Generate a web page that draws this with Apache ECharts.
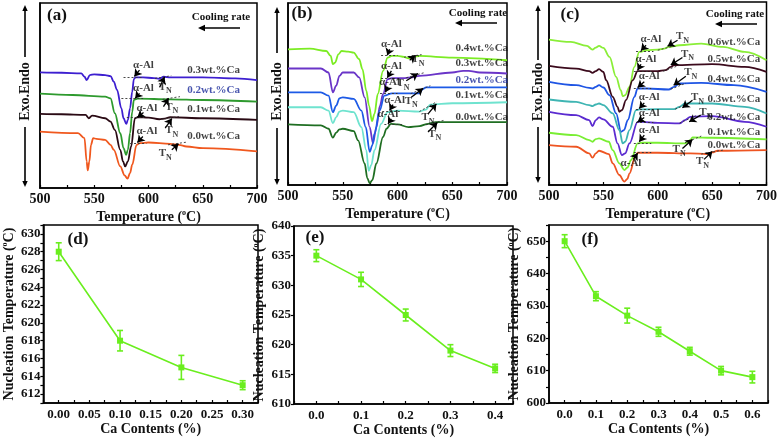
<!DOCTYPE html>
<html><head><meta charset="utf-8">
<script src="https://cdn.jsdelivr.net/npm/echarts@6/dist/echarts.min.js"></script>
<style>html,body{margin:0;padding:0;background:#fff}#c{width:780px;height:438px}</style>
</head><body><div id="c"></div>
<script>
const FONT = '"Liberation Serif","Times New Roman",serif';
// ---------- panel (a) DSC curves: [temperature, heat-flow (arb. units)] ----------
const a_names = ['0.3wt.%Ca','0.2wt.%Ca','0.1wt.%Ca','0.0wt.%Ca'];
const a_ca03 = [[500,348],[520,347],[538,345],[541,335],[543,325],[546,340],[550,342],[560,340],[565,337],[568,320],[571,295],[575,240],[577,210],[579.5,193],[581,205],[583,240],[585,290],[586.5,328],[588,333],[595,333],[605,331],[610,329],[614,335],[620,333],[650,333],[680,330],[700,325]];
const a_ca02 = [[500,284],[530,280],[560,275],[565,270],[569,225],[574,165],[577,120],[579.4,100],[581,115],[583,165],[585,230],[586.5,265],[590,269],[620,267],[650,265],[700,260]];
const a_ca01 = [[500,223],[520,222],[542,220],[545,210],[548,218],[560,210],[565,200],[569,175],[574,115],[576.5,80],[578.5,65],[581,80],[584,125],[587.5,210],[590,213],[600,212],[610,207],[615,209],[620,213],[650,210],[700,205]];
const a_ca00 = [[500,170],[535,165],[541,150],[543,80],[544,53],[545.5,80],[547,130],[549,150],[552,148],[560,145],[565,130],[568,115],[574,65],[578,38],[580.6,28],[583,45],[585,70],[589,130],[592,135],[600,137],[620,133],[628,130],[635,125],[650,120],[700,110]];
// ---------- panel (b) ----------
const b_names = ['0.4wt.%Ca','0.3wt.%Ca','0.2wt.%Ca','0.1wt.%Ca','0.0wt.%Ca'];
const b_ca04 = [[500,410],[520,412],[535,405],[539,390],[541,365],[543,370],[546,395],[549,405],[555,403],[560,400],[565,380],[568,350],[571.5,285],[574,240],[576.7,193],[579,215],[582,275],[586.8,345],[591,385],[595,390],[600,390],[606,387],[610,383],[615,388],[620,390],[650,385],[700,377]];
const b_ca03 = [[500,352],[530,352],[537,340],[541,280],[544,300],[547,330],[550,340],[560,340],[565,325],[570,265],[574.6,175],[577.6,127],[580.7,175],[584,240],[586.8,275],[591,320],[595,323],[605,323],[612,325],[620,330],[650,340],[660,345],[665,345],[675,340],[700,337]];
const b_ca02 = [[500,280],[530,280],[537,270],[541,220],[544,240],[547,262],[550,265],[560,260],[567,225],[571,175],[574.6,100],[577,120],[579,155],[583.7,225],[588,270],[595,277],[610,277],[620,277],[623,290],[626,295],[650,295],[700,295]];
const b_ca01 = [[500,235],[530,235],[537,225],[541,187],[544,205],[547,222],[550,225],[560,220],[567,175],[571.5,105],[573.7,43],[576,60],[579,105],[585,185],[591,220],[600,225],[620,222],[626,228],[630,243],[650,247],[700,250]];
const b_ca00 = [[500,183],[530,180],[537,170],[541,143],[544,158],[547,168],[550,170],[560,163],[564,135],[570,65],[572.5,20],[574.6,5],[577,15],[580.7,65],[586.8,145],[590,170],[594,185],[600,183],[610,175],[620,178],[628,185],[635,190],[700,190]];
// ---------- panel (c) ----------
const c_names = ['0.6wt.%Ca','0.5wt.%Ca','0.4wt.%Ca','0.3wt.%Ca','0.2wt.%Ca','0.1wt.%Ca','0.0wt.%Ca'];
const c_ca06 = [[500,437],[520,430],[535,418],[540,407],[543,413],[546,418],[550,412],[555.6,385],[561.7,325],[566,285],[567.8,267],[570,270],[574,295],[578.5,355],[583,400],[590,405],[600,407],[606,410],[610,415],[620,420],[640,425],[660,415],[680,400],[700,375]];
const c_ca05 = [[500,358],[525,350],[537,342],[540,337],[543,342],[546,348],[550,340],[552.5,315],[558.6,265],[563,235],[564.7,220],[567,225],[570.8,255],[577,315],[581.5,342],[590,342],[600,342],[607,345],[612,355],[615,360],[650,363],[680,355],[700,340]];
const c_ca04 = [[500,310],[525,300],[537,292],[540,290],[543,295],[546,300],[550,293],[555.6,270],[561.7,215],[566.3,160],[569,165],[572.4,195],[578.5,265],[581.5,290],[590,290],[610,287],[615,295],[620,305],[640,307],[670,300],[700,280]];
const c_ca03 = [[500,257],[525,250],[537,240],[540,237],[543,242],[546,245],[550,240],[558.6,215],[564.7,165],[567.8,125],[570,130],[574,165],[580,225],[583,227],[600,228],[615,228],[620,235],[625,245],[650,245],[680,235],[700,215]];
const c_ca02 = [[500,220],[525,210],[537,195],[540,177],[543,195],[546,203],[550,197],[558.6,175],[563,125],[567,90],[570,95],[574,125],[581.5,190],[585,190],[600,187],[620,185],[625,195],[630,205],[650,207],[680,190],[700,175]];
const c_ca01 = [[500,157],[525,150],[537,135],[540,130],[543,138],[546,140],[555,130],[558.6,105],[564.7,65],[569.3,45],[572,52],[575.4,75],[581.5,125],[585,127],[600,127],[625,125],[630,135],[632,143],[650,142],[700,137]];
const c_ca00 = [[500,120],[525,115],[537,95],[540,82],[543,95],[546,103],[555,93],[558.6,65],[564.7,30],[569.3,10],[572,18],[574,35],[579.4,85],[581.5,97],[600,97],[630,95],[645,93],[650,98],[655,103],[700,105]];
// ---------- annotation anchors (data coords) ----------
const a_wtAt = [[660,355],[660,295],[660,237],[660,155]];
const a_alAt = [[595.4,370],[595.4,300],[598.5,240],[598.5,170]];
const a_tnAt = [[615.4,300],[621.5,240],[621.5,170],[615.4,100]];
const a_arrows = [[[591.7,355],[587,336]],[[610.2,303],[614.8,334]],[[591.7,285],[587.7,270]],[[613.8,245],[618.5,270]],[[595.4,227],[589.8,213]],[[615.4,180],[621.5,209]],[[594.8,155],[589.8,137]],[[621.5,115],[627.7,133]]];
const a_tangents = [[[577,333],[594,333]],[[606,330],[621,338]],[[575,269],[595,269]],[[613,267],[629,275]],[[580,213],[596,213]],[[612,207],[628,215]],[[583,136],[598,136]],[[618,130],[635,138]]];
const b_wtAt = [[677,415],[677,367],[677,318],[677,270],[677,205]];
const b_alAt = [[594.4,425],[594.4,360],[592.8,310],[597.4,257],[591.3,213]];
const b_tnAt = [[618.7,375],[605,303],[612.6,250],[627.9,200],[634,150]];
const b_arrows = [[[592.8,410],[590.7,392]],[[594.4,345],[590.7,324]],[[591.3,297],[588.9,280]],[[595.9,243],[592.8,225]],[[594.4,200],[591.3,185]],[[611.1,377],[616.3,391]],[[608,315],[618.7,337]],[[612.6,265],[623.3,292]],[[627.9,215],[635.5,245]],[[627.9,160],[636.4,189]]];
const b_tangents = [[[585,391],[600,391]],[[606,386],[622,394]],[[585,323],[600,323]],[[608,324],[625,340]],[[584,277],[600,277]],[[612,276],[630,300]],[[586,222],[602,222]],[[620,222],[636,252]],[[588,184],[604,184]],[[626,182],[642,195]]];
const c_wtAt = [[670,430],[670,377],[670,317],[670,257],[670,205],[670,160],[670,120]];
const c_alAt = [[593.7,437],[589.2,377],[592.2,327],[592.2,263],[592.2,215],[592.2,165],[575.4,65]];
const c_tnAt = [[622.7,443],[627.3,390],[630.4,335],[636.5,260],[644.1,215],[619.7,103],[641.1,67]];
const c_arrows = [[[589.2,420],[584.6,404]],[[584.6,363],[581.5,345]],[[587.6,310],[581.5,293]],[[587.6,247],[583,230]],[[587.6,203],[581.5,189]],[[587.6,150],[583,130]],[[577.6,77],[581.5,96]],[[618.2,435],[609,417]],[[622.7,383],[612,361]],[[625.8,327],[614.6,300]],[[631.9,255],[622.7,232]],[[639.5,210],[628.9,190]],[[622.7,110],[631.9,137]],[[642.6,77],[650.2,101]]];
const c_tangents = [[[580,402],[596,402]],[[600,405],[615,418]],[[578,342],[594,342]],[[605,342],[620,360]],[[578,290],[594,290]],[[612,288],[626,306]],[[580,227],[596,227]],[[616,228],[630,248]],[[580,190],[596,190]],[[620,186],[635,208]],[[578,126],[594,126]],[[625,127],[640,147]],[[578,97],[594,97]],[[640,93],[660,105]]];
// ---------- panels (d)-(f): nucleation temperature ----------
const d_ca = [0.00,0.10,0.20,0.30];
const d_tn = [628,618,615,613];
const d_err = [1.0,1.15,1.35,0.5];
const e_ca = [0.0,0.1,0.2,0.3,0.4];
const e_tn = [635,631,625,619,616];
const e_err = [1.0,1.2,1.0,1.0,0.7];
const f_ca = [0.0,0.1,0.2,0.3,0.4,0.5,0.6];
const f_tn = [650,633,627,622,616,610,608];
const f_err = [2.0,1.4,2.3,1.4,1.2,1.3,1.8];
const tempTicks = [500,550,600,650,700];

const a_colors = ['#3d1fd0','#2e9a2e','#2a0a14','#f0581e'];
const b_colors = ['#7cec24','#6a35c8','#1d5ae6','#6fe3cf','#1f6e22'];
const c_colors = ['#8aee38','#3b0a1c','#1f55e4','#3fb5b3','#5b2bd0','#79ee33','#ee5522'];
const GREEN = '#6aee1e';

const chart = echarts.init(document.getElementById('c'), null, {renderer:'canvas'});

const grids = [
  {left:40, top:3, width:217, height:185},
  {left:288, top:3, width:219, height:182},
  {left:549, top:2, width:219, height:183},
  {left:39, top:225, width:219, height:178},
  {left:294, top:226, width:219, height:184},
  {left:549, top:225, width:219, height:178}
].map(g => Object.assign({show:true, borderColor:'#000', borderWidth:1.5, backgroundColor:'transparent'}, g));

const axisText = {fontFamily:FONT, fontWeight:'bold', color:'#111'};
const nameRich = {sup:{fontSize:8, lineHeight:8, verticalAlign:'top', fontFamily:FONT, fontWeight:'bold'}};

function tempX(i){
  return {gridIndex:i, type:'value', min:500, max:700, interval:25,
    axisLine:{show:true, onZero:false, lineStyle:{color:'#000', width:1.5}},
    axisTick:{show:true, inside:true, length:3, lineStyle:{color:'#000', width:1.2}},
    axisLabel:Object.assign({fontSize:14, margin:4, formatter:v => tempTicks.includes(v) ? String(v) : ''}, axisText),
    splitLine:{show:false},
    name:'Temperature ({sup|o}C)', nameLocation:'middle', nameGap:21,
    nameTextStyle:Object.assign({fontSize:14, lineHeight:16, rich:nameRich}, axisText)};
}
function heatY(i, max){
  return {gridIndex:i, type:'value', min:0, max:max,
    axisLine:{show:true, lineStyle:{color:'#000', width:1.5}}, axisTick:{show:false}, axisLabel:{show:false}, splitLine:{show:false}};
}
function caX(i, min, max, interval, step, dec){
  return {gridIndex:i, type:'value', min, max, interval,
    axisLine:{show:true, onZero:false, lineStyle:{color:'#000', width:1.5}},
    axisTick:{show:true, inside:true, length:3, lineStyle:{color:'#000', width:1.2}},
    axisLabel:Object.assign({fontSize:13, margin:5, formatter:v => {const k=v/step; return (v>=-1e-9 && Math.abs(k-Math.round(k))<1e-6) ? v.toFixed(dec) : '';}}, axisText),
    splitLine:{show:false},
    name:'Ca Contents (%)', nameLocation:'middle', nameGap:19,
    nameTextStyle:Object.assign({fontSize:14}, axisText)};
}
function tnY(i, min, max, interval, step, gap){
  return {gridIndex:i, type:'value', min, max, interval,
    axisLine:{show:true, onZero:false, lineStyle:{color:'#000', width:1.5}},
    axisTick:{show:true, length:3, lineStyle:{color:'#000', width:1.2}},
    axisLabel:Object.assign({fontSize:13, margin:3, formatter:v => (Math.abs(v/step - Math.round(v/step))<1e-6) ? String(v) : ''}, axisText),
    splitLine:{show:false},
    name:'Nucleation Temperature ({sup|o}C)', nameLocation:'middle', nameGap:gap,
    nameTextStyle:Object.assign({fontSize:14, lineHeight:16, rich:nameRich}, axisText)};
}

const xAxis = [tempX(0), tempX(1), tempX(2), caX(3,-0.025,0.325,0.025,0.05,2), caX(4,-0.05,0.44,0.05,0.1,1), caX(5,-0.05,0.65,0.05,0.1,1)];
const yAxis = [heatY(0,557), heatY(1,550), heatY(2,550), tnY(3,611,631,1,2,26), tnY(4,610,640,5,5,26), tnY(5,600,655,5,10,26)];

const series = [];
function curve(g, data, color){
  series.push({type:'line', xAxisIndex:g, yAxisIndex:g, data, showSymbol:false, smooth:0.35, smoothMonotone:'x',
    lineStyle:{color, width:1.8}, itemStyle:{color}, z:3, silent:true});
}
function texts(g, pts, labels, opts){
  series.push({type:'scatter', xAxisIndex:g, yAxisIndex:g, symbolSize:0, silent:true, z:6,
    data: pts.map((p,i)=>({value:p, label:Object.assign({}, opts.per ? opts.per[i] : {})})),
    label:Object.assign({show:true, position:'inside', fontFamily:FONT, fontWeight:'bold', color:'#111', fontSize:11,
      formatter: p => (typeof labels === 'string') ? labels : labels[p.dataIndex]}, opts.label || {})});
}
function arrows(g, segs){
  series.push({type:'lines', coordinateSystem:'cartesian2d', xAxisIndex:g, yAxisIndex:g, polyline:false, z:5, silent:true,
    symbol:['none','arrow'], symbolSize:7, lineStyle:{color:'#000', width:1.3, opacity:1},
    data: segs.map(s => ({coords:s}))});
}
function tangents(g, segs){
  series.push({type:'lines', coordinateSystem:'cartesian2d', xAxisIndex:g, yAxisIndex:g, polyline:false, z:4, silent:true,
    symbol:['none','none'], lineStyle:{color:'#333', width:0.9, type:[2,2], opacity:1},
    data: segs.map(s => ({coords:s}))});
}
const tnLabel = {formatter:'{t|T}{n|N}', rich:{t:{fontSize:11, lineHeight:14, verticalAlign:'top', fontFamily:FONT, fontWeight:'bold', color:'#111'}, n:{fontSize:8, lineHeight:8, verticalAlign:'bottom', fontFamily:FONT, fontWeight:'bold', color:'#111'}}};

[a_ca03,a_ca02,a_ca01,a_ca00].forEach((d,i)=>curve(0,d,a_colors[i]));
[b_ca04,b_ca03,b_ca02,b_ca01,b_ca00].forEach((d,i)=>curve(1,d,b_colors[i]));
[c_ca06,c_ca05,c_ca04,c_ca03,c_ca02,c_ca01,c_ca00].forEach((d,i)=>curve(2,d,c_colors[i]));

tangents(0,a_tangents); tangents(1,b_tangents); tangents(2,c_tangents);
arrows(0,a_arrows); arrows(1,b_arrows); arrows(2,c_arrows);

texts(0, a_wtAt, a_names, {per: a_names.map(n => n==='0.2wt.%Ca' ? {color:'#1a2a9a'} : {})});
texts(1, b_wtAt, b_names, {per: b_names.map(n => n==='0.2wt.%Ca' ? {color:'#1a2a9a'} : {})});
texts(2, c_wtAt, c_names, {});
[[0,a_alAt],[1,b_alAt],[2,c_alAt]].forEach(([g,p])=>texts(g,p,'α-Al',{}));
[[0,a_tnAt],[1,b_tnAt],[2,c_tnAt]].forEach(([g,p])=>texts(g,p,'',{label:tnLabel}));

function nuc(g, xs, ys, es){
  series.push({type:'custom', xAxisIndex:g, yAxisIndex:g, z:4, silent:true,
    data: xs.map((x,i)=>[x, ys[i]-es[i], ys[i]+es[i]]),
    encode:{x:0, y:[1,2]},
    renderItem(params, api){
      const lo = api.coord([api.value(0), api.value(1)]);
      const hi = api.coord([api.value(0), api.value(2)]);
      const w = 3, st = {stroke:GREEN, lineWidth:1.6};
      return {type:'group', children:[
        {type:'line', shape:{x1:lo[0],y1:lo[1],x2:hi[0],y2:hi[1]}, style:st},
        {type:'line', shape:{x1:lo[0]-w,y1:lo[1],x2:lo[0]+w,y2:lo[1]}, style:st},
        {type:'line', shape:{x1:hi[0]-w,y1:hi[1],x2:hi[0]+w,y2:hi[1]}, style:st}]};
    }});
  series.push({type:'line', xAxisIndex:g, yAxisIndex:g, z:5, silent:true,
    data: xs.map((x,i)=>[x, ys[i]]), symbol:'rect', symbolSize:6, showSymbol:true,
    lineStyle:{color:GREEN, width:1.6}, itemStyle:{color:GREEN}});
}
nuc(3,d_ca,d_tn,d_err); nuc(4,e_ca,e_tn,e_err); nuc(5,f_ca,f_tn,f_err);

// ---------- decorations (pixel layout) ----------
const graphic = [];
function gtext(x,y,text,size,extra){
  graphic.push(Object.assign({type:'text', x, y, style:Object.assign({text, font:'bold '+size+'px '+FONT, fill:'#111', textAlign:'center', textVerticalAlign:'middle'}, extra||{})}));
}
function garrow(x1,y1,x2,y2,head){
  const h = head || 6; const ang = Math.atan2(y2-y1,x2-x1);
  const p1=[x2-h*Math.cos(ang)+h*0.45*Math.sin(ang), y2-h*Math.sin(ang)-h*0.45*Math.cos(ang)];
  const p2=[x2-h*Math.cos(ang)-h*0.45*Math.sin(ang), y2-h*Math.sin(ang)+h*0.45*Math.cos(ang)];
  graphic.push({type:'line', shape:{x1,y1,x2:x2-h*0.8*Math.cos(ang),y2:y2-h*0.8*Math.sin(ang)}, style:{stroke:'#000', lineWidth:1.6}});
  graphic.push({type:'polygon', shape:{points:[[x2,y2],p1,p2]}, style:{fill:'#000'}});
}
// panel letters
gtext(57,16,'(a)',17); gtext(302,14,'(b)',17); gtext(570,15,'(c)',17);
gtext(78,240,'(d)',17); gtext(315,238,'(e)',17); gtext(590,240,'(f)',17);
// cooling rate
gtext(221,17,'Cooling rate',11); garrow(240,28,198,28,7);
gtext(478,13,'Cooling rate',11); garrow(497,23,455,23,7);
gtext(735,14,'Cooling rate',11); garrow(757,24,715,24,7);
// Exo.Endo vertical labels
[[25,5,57,63,120,127,187],[277,7,53,63,120,128,185],[538,5,60,67,117,127,183]].forEach(([x,t1,t2,s1,s2,b1,b2])=>{
  graphic.push({type:'text', x, y:(s1+s2)/2, rotation:Math.PI/2, style:{text:'Exo.Endo', font:'bold 14px '+FONT, fill:'#111', textAlign:'center', textVerticalAlign:'middle'}});
  garrow(x,t2,x,t1,6); garrow(x,b1,x,b2,6);
});

chart.setOption({animation:false, backgroundColor:'#fff', grid:grids, xAxis, yAxis, series, graphic});
</script></body></html>
